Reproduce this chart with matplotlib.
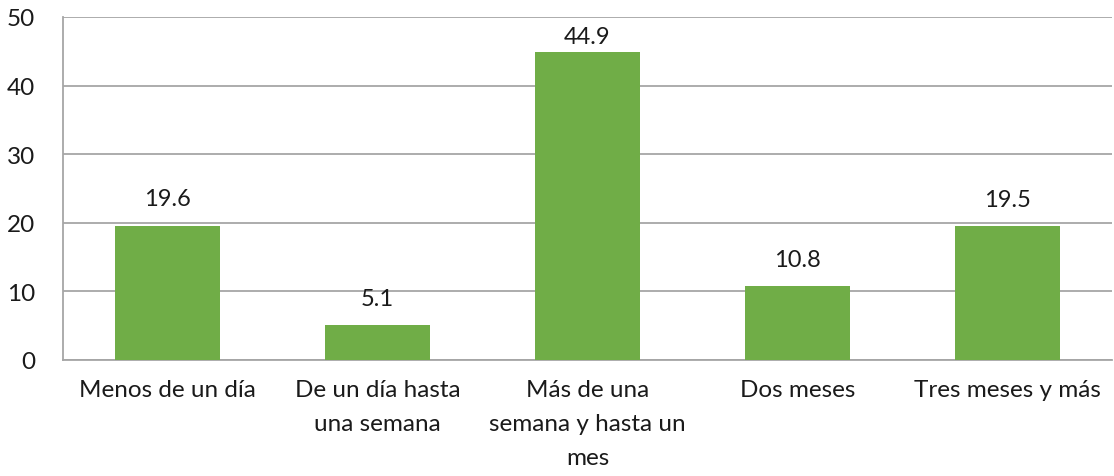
import matplotlib
matplotlib.use("Agg")

import matplotlib.pyplot as plt
import numpy as np

categories = [
    "Menos de un día",
    "De un día hasta\nuna semana",
    "Más de una\nsemana y hasta un\nmes",
    "Dos meses",
    "Tres meses y más",
]
values = [19.6, 5.1, 44.9, 10.8, 19.5]
yticks = [0, 10, 20, 30, 40, 50]

plt.rcParams["font.family"] = ["Lato", "DejaVu Sans"]

fig = plt.figure(figsize=(11.14, 4.77), dpi=100)
ax = fig.add_axes([63 / 1114, 1 - 361 / 477, (1112 - 63) / 1114, (361 - 18) / 477])

x = np.arange(len(categories))
bars = ax.bar(x, values, width=0.5, color="#70ad47", zorder=3)
for b, v in zip(bars, values):
    # labels sit above bars, but kept inside the plot area like Excel does
    ax.text(b.get_x() + b.get_width() / 2, min(v + 3.9, 47.2), f"{v:.1f}",
            ha="center", va="center", fontsize=17, color="#1a1a1a")

ax.set_xlim(-0.5, len(categories) - 0.5)
ax.set_ylim(0, 50)
ax.set_yticks(yticks)
ax.set_xticks(x)
ax.set_xticklabels(categories, fontsize=17.5, linespacing=1.75, color="#1a1a1a")
ax.tick_params(axis="y", labelsize=17.5, length=0, pad=20, colors="#1a1a1a")
ax.tick_params(axis="x", length=0, pad=14)
ax.yaxis.grid(True, color="#a6a6a6", linewidth=1.3, zorder=0)
for s in ["top", "right"]:
    ax.spines[s].set_visible(False)
ax.spines["left"].set_color("#a6a6a6")
ax.spines["bottom"].set_color("#a6a6a6")
ax.spines["left"].set_linewidth(1.3)
ax.spines["bottom"].set_linewidth(1.3)

fig.savefig("out.png", dpi=100)
